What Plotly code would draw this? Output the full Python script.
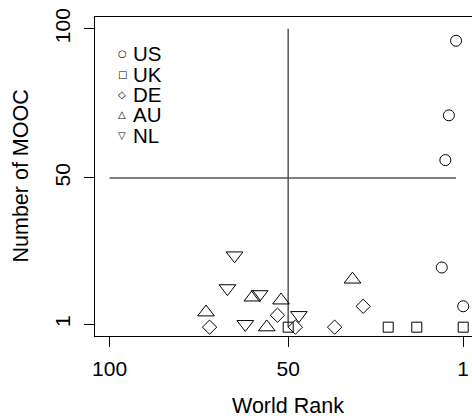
import plotly.graph_objects as go

# ---- data ----
us_rank = [3, 5, 6, 7, 1]
us_mooc = [96, 71, 56, 20, 7]
uk_rank = [50, 22, 14, 1]
uk_mooc = [0, 0, 0, 0]
de_rank = [72, 53, 48, 37, 29]
de_mooc = [0, 4, 0, 0, 7]
au_rank = [73, 60, 52, 56, 32]
au_mooc = [5, 10, 9, 0, 16]
nl_rank = [65, 67, 58, 62, 47]
nl_mooc = [24, 13, 11, 1, 4]

x_ticks = [100, 50, 1]
y_ticks = [1, 50, 100]
countries = ["US", "UK", "DE", "AU", "NL"]
legend_glyphs = ["○", "□", "◇", "△", "▽"]

# reference lines
vline_x, vline_y0, vline_y1 = 50, 0, 100
hline_y, hline_x0, hline_x1 = 50, 100, 3

W, H = 472, 419
ML, MR, MT, MB = 95, 0, 17, 83
PW, PH = W - ML - MR, H - MT - MB

def px_x(p):
    return (p - ML) / PW

def px_y(p):
    return (H - MB - p) / PH

FONT = "Liberation Sans, Arial, sans-serif"

fig = go.Figure()

series = [
    (us_rank, us_mooc, "circle-open", 11),
    (uk_rank, uk_mooc, "square-open", 10),
    (de_rank, de_mooc, "diamond-open", 11),
    (au_rank, au_mooc, "triangle-up-open", 14.5),
    (nl_rank, nl_mooc, "triangle-down-open", 14.5),
]
for (xs, ys, sym, sz), name in zip(series, countries):
    fig.add_trace(go.Scatter(
        x=xs, y=ys, mode="markers", name=name, showlegend=False,
        marker=dict(symbol=sym, size=sz, color="black", line=dict(width=1, color="black")),
        cliponaxis=False, hoverinfo="skip",
    ))

fig.add_shape(type="line", x0=vline_x, x1=vline_x, y0=vline_y0, y1=vline_y1,
              xref="x", yref="y", line=dict(color="#555555", width=1.5), layer="below")
fig.add_shape(type="line", x0=hline_x0, x1=hline_x1, y0=hline_y, y1=hline_y,
              xref="x", yref="y", line=dict(color="#555555", width=1.5), layer="below")

# legend (R-style, inside plot, no box)
row_mid = [53.5, 74.0, 94.2, 114.3, 134.5]
for name, glyph, ym in zip(countries, legend_glyphs, row_mid):
    fig.add_annotation(x=px_x(122), y=px_y(ym), xref="paper", yref="paper",
                       text=glyph, showarrow=False, xanchor="center", yanchor="middle",
                       height=14, valign="middle",
                       font=dict(family="DejaVu Sans", size=10, color="black"))
    fig.add_annotation(x=px_x(130.5), y=px_y(ym), xref="paper", yref="paper",
                       text=name, showarrow=False, xanchor="left", yanchor="middle",
                       height=18, valign="middle",
                       font=dict(family=FONT, size=20.5, color="black"))

# axis titles
fig.add_annotation(x=px_x(288.3), y=px_y(405.8), xref="paper", yref="paper",
                   text="World Rank", showarrow=False, xanchor="center", yanchor="middle",
                   font=dict(family=FONT, size=21.5, color="black"))
fig.add_annotation(x=px_x(20), y=px_y(176.5), xref="paper", yref="paper",
                   text="Number of MOOC", showarrow=False, xanchor="center", yanchor="middle",
                   textangle=-90, font=dict(family=FONT, size=21.5, color="black"))

fig.update_layout(
    width=W, height=H,
    margin=dict(l=ML, r=MR, t=MT, b=MB, pad=0),
    paper_bgcolor="white", plot_bgcolor="white",
    font=dict(family=FONT, size=21, color="black"),
    showlegend=False,
    hovermode=False,
    xaxis=dict(range=[104.08, -1.46], tickvals=x_ticks, ticktext=[str(v) for v in x_ticks],
               showgrid=False, zeroline=False, showline=True, mirror=True,
               linecolor="black", linewidth=1, ticks="outside", ticklen=10,
               tickcolor="black", tickwidth=1, ticklabelstandoff=4,
               tickfont=dict(family=FONT, size=21, color="black")),
    yaxis=dict(range=[-2.96, 103.96], tickvals=y_ticks, ticktext=[str(v) for v in y_ticks],
               showgrid=False, zeroline=False, showline=True, mirror=False,
               linecolor="black", linewidth=1, ticks="outside", ticklen=10,
               tickcolor="black", tickwidth=1, tickangle=-90, ticklabelstandoff=6,
               tickfont=dict(family=FONT, size=21, color="black")),
)

fig.write_html("out.html", config={"displayModeBar": False, "staticPlot": True},
               post_script="document.body.style.margin='0';document.body.style.overflow='hidden';")
